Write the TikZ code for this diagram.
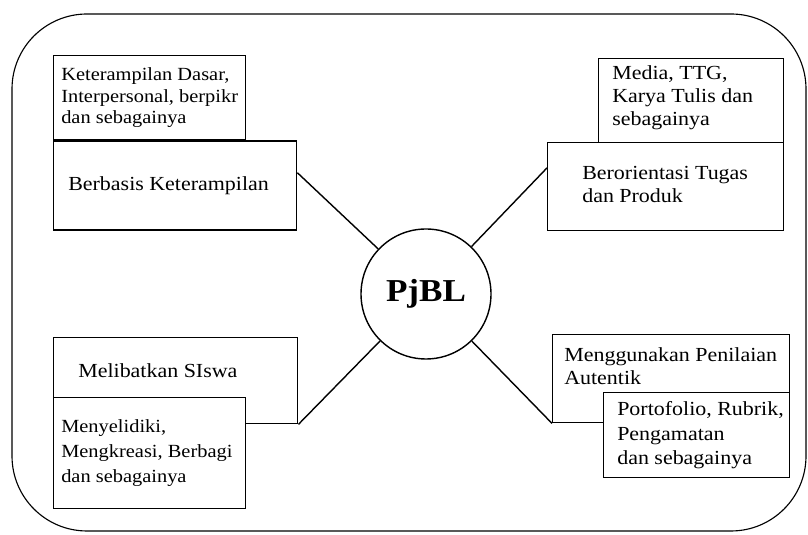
\documentclass[tikz,border=0pt]{standalone}
\usepackage{fontspec}
\setmainfont{Liberation Serif}[FakeStretch=1.1]
\usetikzlibrary{positioning}

\begin{document}
\begin{tikzpicture}[
    kotak/.style={draw, fill=white, line width=1pt, anchor=north west, inner sep=0pt},
    isi/.style={align=left, inner sep=0pt, font=\fontsize{14.2}{16.5}\selectfont},
    kecil/.style={font=\fontsize{13.2}{15.3}\selectfont},
    garis/.style={line width=1pt}
  ]
            \useasboundingbox (0,0) rectangle (20.2,13.375);
            \draw[line width=0.8pt, rounded corners=1.875cm] (0.3,0.1) rectangle (20.15,13.025);

            \node[circle, draw, line width=1pt, minimum size=3.25cm, font=\fontsize{22.7}{26}\selectfont\bfseries] (pjbl) at (10.65,6.025) {PjBL};

            % kiri atas
            \node[kotak, minimum width=4.8cm, minimum height=2.1cm] (dasar) at (1.325,12) {};
            \node[kotak, minimum width=6.075cm, minimum height=2.225cm] (keterampilan) at (dasar.south west) {};
            \node[isi, kecil, right=0.2cm of dasar.west] (dasar-teks) {Keterampilan Dasar,\\Interpersonal, berpikr\\dan sebagainya};
            \node[isi, right=0.375cm of keterampilan.west] (keterampilan-teks) {Berbasis Keterampilan};

            % kanan atas
            \node[kotak, minimum width=4.625cm, minimum height=2.1cm] (media) at (14.95,11.925) {};
            \node[kotak, minimum width=5.9cm, minimum height=2.2cm] (tugas) at (13.675,9.825) {};
            \node[isi, right=0.35cm of media.west, yshift=0.075cm] (media-teks) {Media, TTG,\\Karya Tulis dan\\sebagainya};
            \node[isi, right=0.875cm of tugas.west, yshift=0.05cm] (tugas-teks) {Berorientasi Tugas\\dan Produk};

            % kiri bawah
            \node[kotak, minimum width=6.1cm, minimum height=2.15cm] (siswa) at (1.325,4.95) {};
            \node[isi, right=0.625cm of siswa.west, yshift=0.25cm] (siswa-teks) {Melibatkan SIswa};
            \node[kotak, minimum width=4.8cm, minimum height=2.775cm] (selidik) at (1.325,3.45) {};
            \node[isi, font=\fontsize{13.2}{18}\selectfont, right=0.2cm of selidik.west] (selidik-teks) {Menyelidiki,\\Mengkreasi, Berbagi\\dan sebagainya};

            % kanan bawah
            \node[kotak, minimum width=5.925cm, minimum height=2.2cm] (penilaian) at (13.8,5.025) {};
            \node[isi, right=0.3cm of penilaian.west, yshift=0.31cm] (penilaian-teks) {Menggunakan Penilaian\\Autentik};
            \node[kotak, minimum width=4.65cm, minimum height=2.125cm] (portofolio) at (15.075,3.575) {};
            \node[isi, font=\fontsize{14.2}{17.4}\selectfont, right=0.35cm of portofolio.west] (portofolio-teks) {Portofolio, Rubrik,\\Pengamatan\\dan sebagainya};

            \draw[garis] (keterampilan.6) -- (pjbl);
            \draw[garis] (tugas.171) -- (pjbl);
            \draw[garis] (siswa.south east) -- (pjbl);
            \draw[garis] (penilaian.south west) -- (pjbl);
\end{tikzpicture}
\end{document}
